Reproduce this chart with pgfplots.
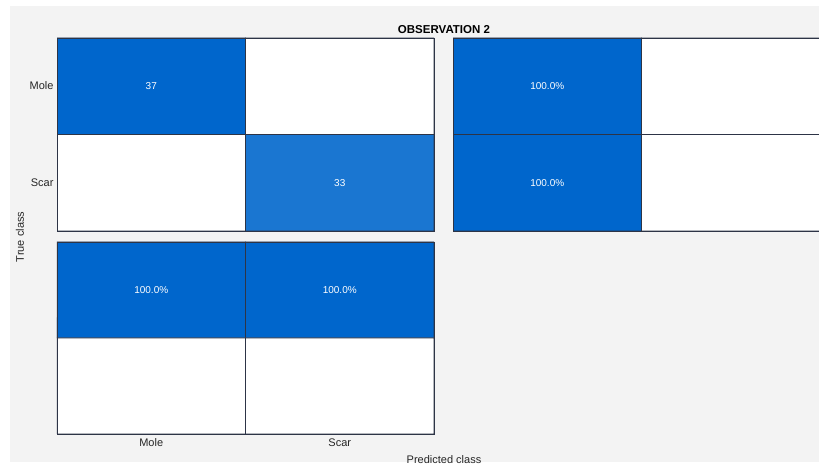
\documentclass[border=0pt]{standalone}
\usepackage{fontspec}
\setmainfont{Liberation Sans}
\usepackage{pgfplots}
\pgfplotsset{compat=1.18}
\definecolor{spssblue}{RGB}{0,102,204}
\definecolor{bggray}{RGB}{243,243,243}
\definecolor{edgec}{RGB}{45,52,70}
\begin{document}
\begin{tikzpicture}
\useasboundingbox (0pt,0pt) rectangle (819pt,465pt);
\fill[white] (0pt,0pt) rectangle (819pt,465pt);
\fill[bggray] (10pt,3pt) rectangle (819pt,459pt);
\pgfplotsset{
  cm/.style={
    scale only axis, anchor=south west,
    xmin=-0.5,xmax=1.5,ymin=-0.5,ymax=1.5,
    y dir=reverse,
    axis line style={edgec, line width=0.8pt},
    colormap={spss}{color(0)=(white) color(1)=(spssblue)},
    point meta min=0,
    major tick length=0pt,
    xtick=\empty, ytick=\empty,
    axis on top,
    ticklabel style={font=\fontsize{11}{13}\selectfont, text=black!85, text height=1.6ex, text depth=0.3ex},
    /pgf/number format/assume math mode=true,
  },
  cells/.style={matrix plot, shader=faceted, faceted color=edgec, line width=0.7pt, mesh/cols=2, point meta=explicit},
  txt/.style={only marks, mark=none, point meta=explicit, nodes near coords,
    every node near coord/.append style={anchor=center, white, font=\fontsize{10}{12}\selectfont}},
}
% main count matrix (row 0 = Mole, row 1 = Scar)
\begin{axis}[cm, at={(57pt,234pt)}, width=377pt, height=193pt, point meta max=37,
  ytick={0,1}, yticklabels={Mole,Scar}]
\addplot[cells] table[meta=c] {
x y c
0 0 37
1 0 0
0 1 0
1 1 33
};
\addplot[txt] table[meta=c] {
x y c
0 0 37
1 1 33
};
\end{axis}
% row percentages
\begin{axis}[cm, at={(453pt,234pt)}, width=377pt, height=193pt, point meta max=100]
\addplot[cells] table[meta=c] {
x y c
0 0 100
1 0 0
0 1 100
1 1 0
};
\addplot[txt, nodes near coords={\pgfmathprintnumber[fixed,fixed zerofill,precision=1]{\pgfplotspointmeta}\%}] table[meta=c] {
x y c
0 0 100
0 1 100
};
\end{axis}
% column percentages
\begin{axis}[cm, at={(57pt,31pt)}, width=377pt, height=192pt, point meta max=100,
  xtick={0,1}, xticklabels={Mole,Scar}, xticklabel style={yshift=-1pt}]
\addplot[cells] table[meta=c] {
x y c
0 0 100
1 0 100
0 1 0
1 1 0
};
\addplot[txt, nodes near coords={\pgfmathprintnumber[fixed,fixed zerofill,precision=1]{\pgfplotspointmeta}\%}] table[meta=c] {
x y c
0 0 100
1 0 100
};
\end{axis}
\node[font=\bfseries\fontsize{11.5}{13}\selectfont] at (444pt,435pt) {OBSERVATION 2};
\node[rotate=90, font=\fontsize{11}{13}\selectfont, text=black!85] at (20pt,228pt) {True class};
\node[font=\fontsize{11}{13}\selectfont, text=black!85] at (444pt,5pt) {Predicted class};
\end{tikzpicture}
\end{document}
